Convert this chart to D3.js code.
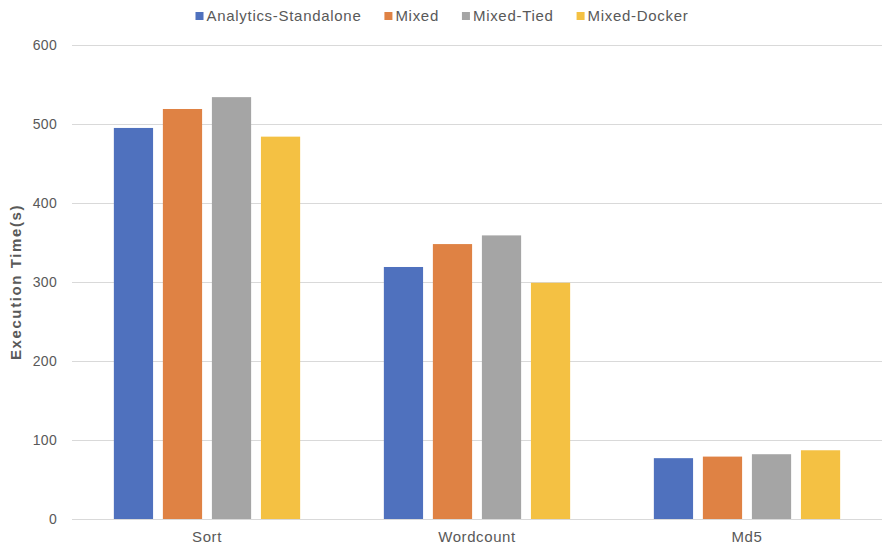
<!DOCTYPE html>
<html>
<head>
<meta charset="utf-8">
<script src="https://cdn.jsdelivr.net/npm/d3@7/dist/d3.min.js"></script>
<style>
  html, body { margin: 0; padding: 0; background: #fff; }
  svg { display: block; font-family: "Liberation Sans", Arial, sans-serif; }
</style>
</head>
<body>
<svg id="chart" width="882" height="547"></svg>
<script>
// Benchmarks on the x axis
const categories = ["Sort", "Wordcount", "Md5"];
// Deployment modes (one bar each per benchmark)
const seriesNames = ["Analytics-Standalone", "Mixed", "Mixed-Tied", "Mixed-Docker"];
const seriesColors = ["#4F71BE", "#DF8244", "#A5A5A5", "#F4C143"];
// Execution time in seconds, one array per mode, ordered like categories
const standalone = [495, 319, 77];
const mixed = [519, 348, 79];
const mixedTied = [534, 359, 82];
const mixedDocker = [484, 299, 87];
const yTicks = [0, 100, 200, 300, 400, 500, 600];
const yTitle = "Execution Time(s)";

const seriesValues = [standalone, mixed, mixedTied, mixedDocker];

const svg = d3.select("#chart");
const width = 882, height = 547;
const margin = { top: 45, right: 0, bottom: 28, left: 72 };

const x = d3.scaleBand()
  .domain(categories)
  .range([margin.left, width - margin.right])
  .paddingInner(0)
  .paddingOuter(0);

const bw = x.bandwidth();
const xInner = d3.scaleBand()
  .domain(seriesNames)
  .range([bw * 0.155, bw * 0.845])
  .paddingInner(0.2);

const y = d3.scaleLinear()
  .domain([0, 600])
  .range([height - margin.bottom, margin.top]);

// Horizontal gridlines
svg.append("g")
  .selectAll("line")
  .data(yTicks)
  .join("line")
  .attr("x1", margin.left)
  .attr("x2", width - margin.right)
  .attr("y1", d => Math.round(y(d)) + 0.5)
  .attr("y2", d => Math.round(y(d)) + 0.5)
  .attr("stroke", "#D9D9D9")
  .attr("stroke-width", 1);

// Y tick labels
svg.append("g")
  .selectAll("text")
  .data(yTicks)
  .join("text")
  .attr("x", margin.left - 15)
  .attr("y", d => y(d))
  .attr("dy", "0.35em")
  .attr("text-anchor", "end")
  .attr("fill", "#595959")
  .attr("font-size", 14)
  .attr("letter-spacing", 0.3)
  .text(d => d);

// Y axis title
svg.append("text")
  .attr("transform", `translate(21,${(y(0) + y(600)) / 2}) rotate(-90)`)
  .attr("text-anchor", "middle")
  .attr("fill", "#595959")
  .attr("font-size", 15)
  .attr("font-weight", "bold")
  .attr("letter-spacing", 1.6)
  .text(yTitle);

// Bars
const groups = svg.append("g")
  .selectAll("g")
  .data(categories)
  .join("g")
  .attr("transform", d => `translate(${x(d)},0)`);

groups.selectAll("rect")
  .data((c, ci) => seriesNames.map((s, si) => ({ s, si, v: seriesValues[si][ci] })))
  .join("rect")
  .attr("x", d => xInner(d.s))
  .attr("width", xInner.bandwidth())
  .attr("y", d => y(d.v))
  .attr("height", d => y(0) - y(d.v))
  .attr("fill", d => seriesColors[d.si]);

// Category labels
svg.append("g")
  .selectAll("text")
  .data(categories)
  .join("text")
  .attr("x", d => x(d) + bw / 2)
  .attr("y", y(0) + 18)
  .attr("dy", "0.35em")
  .attr("text-anchor", "middle")
  .attr("fill", "#595959")
  .attr("font-size", 15)
  .attr("letter-spacing", 0.6)
  .text(d => d);

// Legend, laid out left to right and centred over the plot
const legend = svg.append("g");
const items = legend.selectAll("g")
  .data(seriesNames)
  .join("g");
items.append("rect")
  .attr("width", 8)
  .attr("height", 8)
  .attr("y", -4)
  .attr("fill", (d, i) => seriesColors[i]);
items.append("text")
  .attr("x", 11)
  .attr("dy", "0.35em")
  .attr("fill", "#595959")
  .attr("font-size", 15)
  .attr("letter-spacing", 0.7)
  .text(d => d);

let cursor = 0;
const gap = 23;
items.each(function () {
  const g = d3.select(this);
  const w = 11 + g.select("text").node().getComputedTextLength();
  g.attr("transform", `translate(${cursor},0)`);
  cursor += w + gap;
});
const totalW = cursor - gap;
legend.attr("transform", `translate(${(margin.left + width) / 2 - totalW / 2 - 35},16)`);
</script>
</body>
</html>
